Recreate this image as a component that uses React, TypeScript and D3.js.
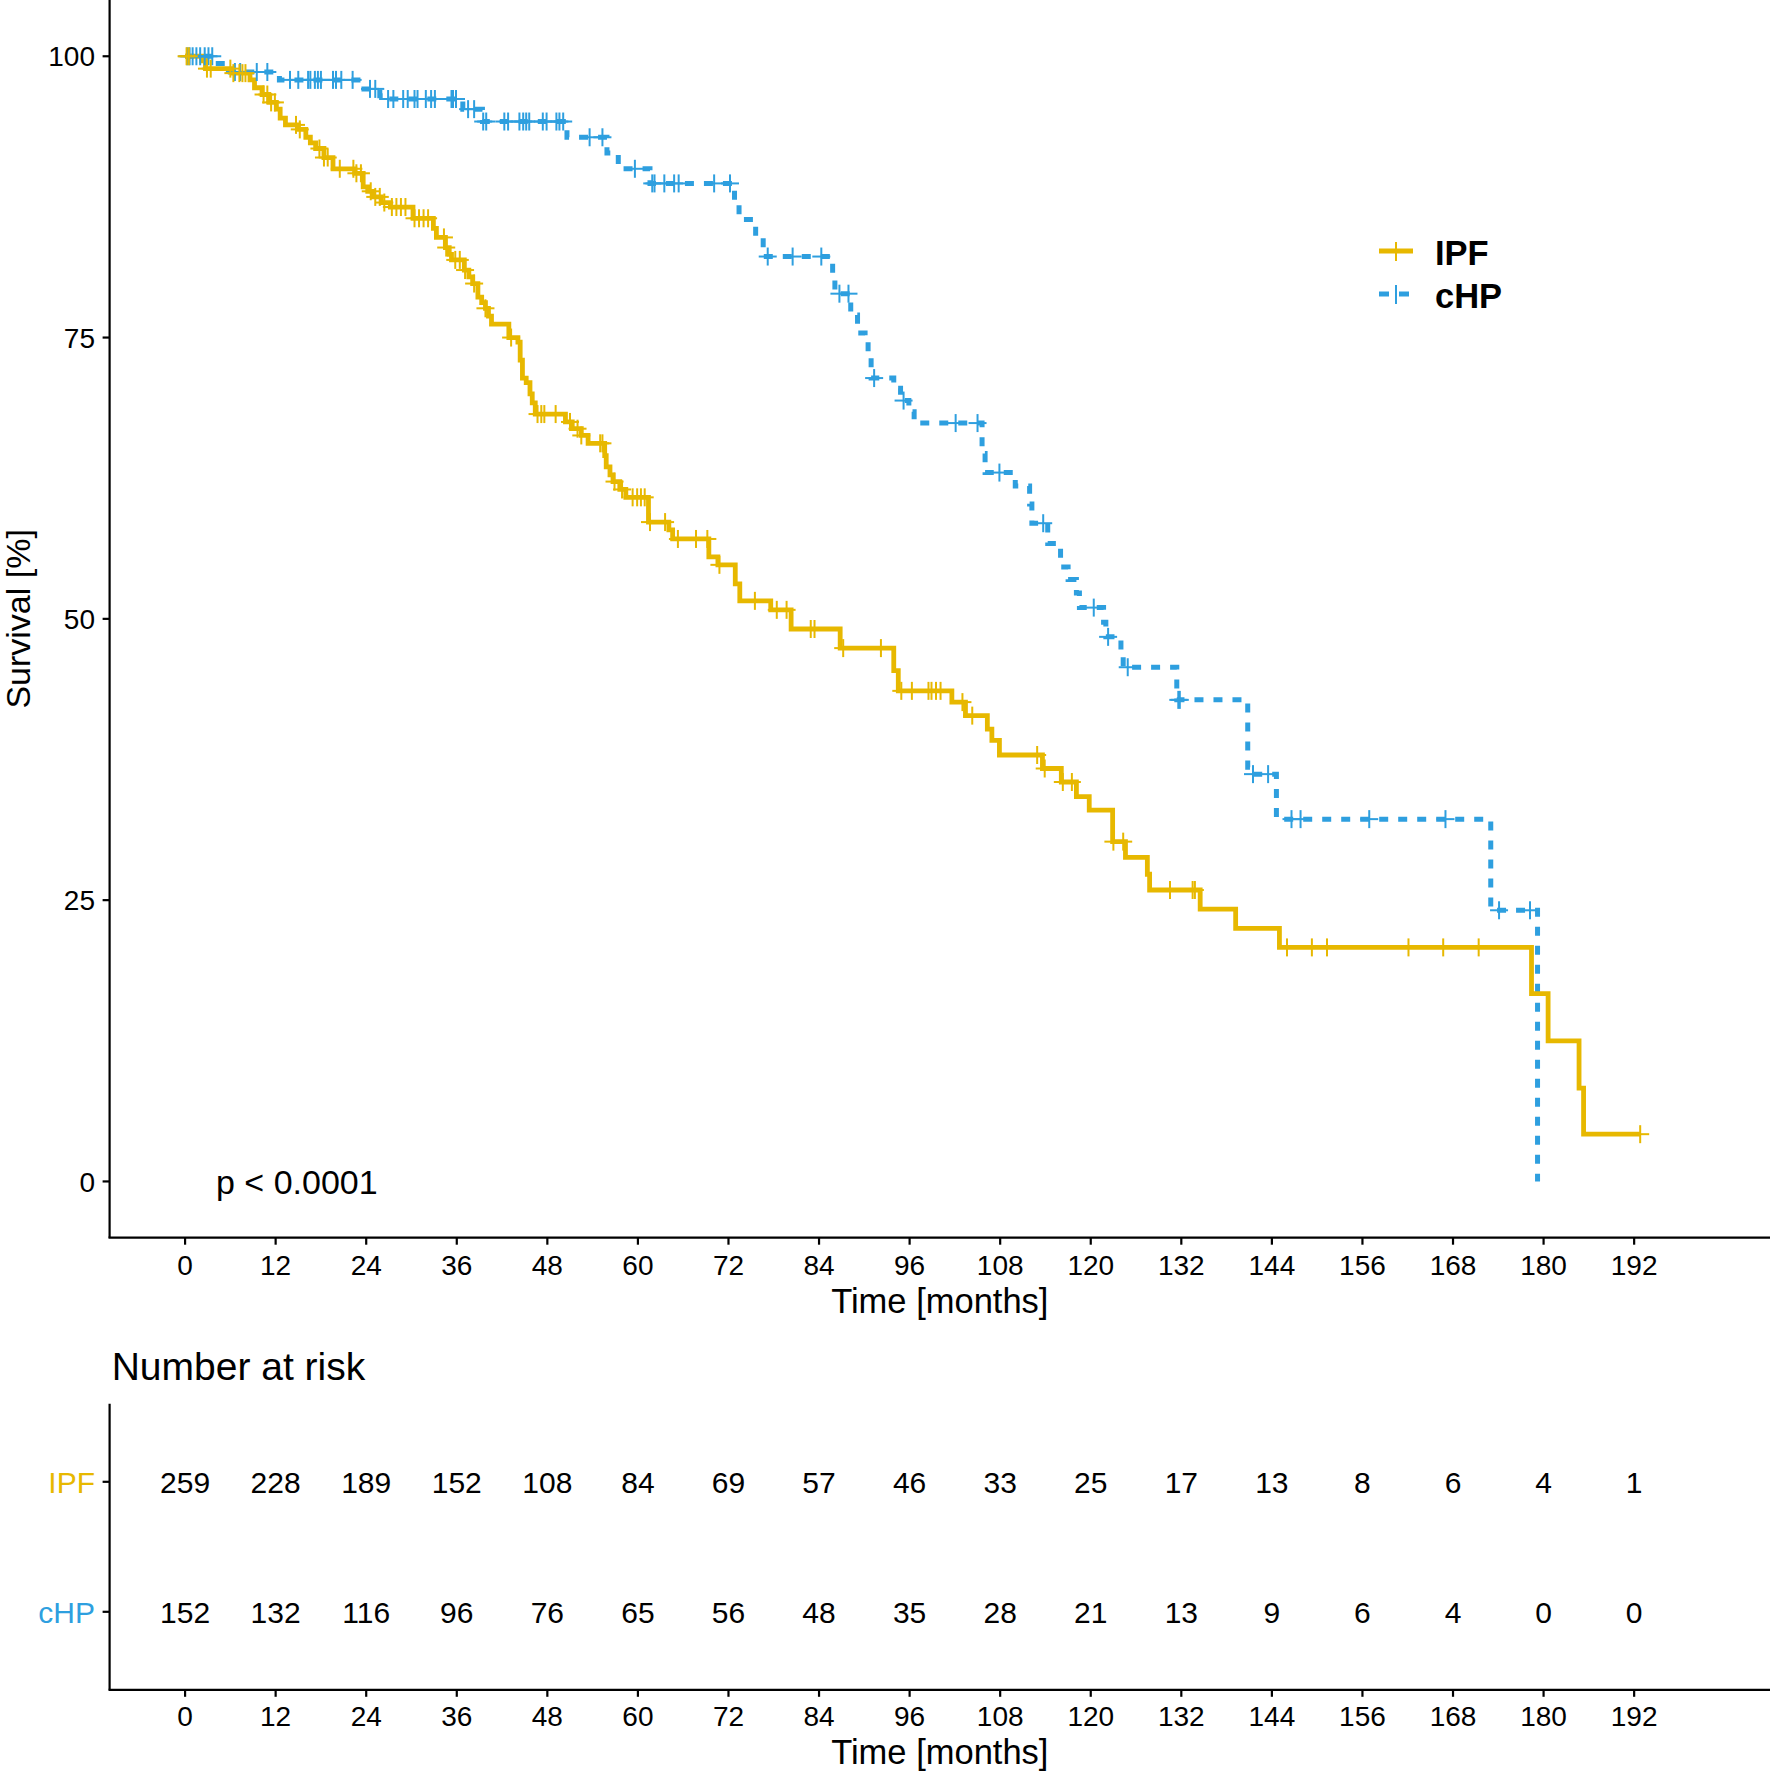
import React from 'react';
import * as d3 from 'd3';

// ---- Data ----
const groups = ['IPF', 'cHP'];
const groupColors = ['#E7B800', '#2E9FDF'];

const ipfTimes = [0, 2.2, 2.7, 6.3, 8.6, 9.2, 10.2, 11.1, 12.1, 12.6, 13.3, 15.0, 16.0, 16.6, 17.3, 18.4, 19.6, 22.5, 23.6, 24.2, 24.9, 26.0, 27.2, 30.2, 32.9, 33.3, 34.5, 35.0, 35.3, 37.0, 37.6, 38.1, 38.8, 39.3, 39.8, 40.2, 40.6, 42.9, 44.1, 44.4, 44.7, 45.2, 45.7, 46.0, 46.4, 50.4, 51.3, 52.5, 53.4, 55.6, 55.8, 56.3, 56.7, 57.6, 58.4, 61.4, 64.1, 64.6, 69.4, 70.6, 72.9, 73.5, 77.6, 80.3, 86.8, 93.9, 94.5, 101.6, 103.4, 106.3, 106.9, 107.9, 113.6, 116.1, 118.1, 119.8, 122.9, 124.6, 127.5, 127.8, 134.5, 139.2, 145.0, 178.4, 180.6, 184.7, 185.3];
const ipfSurv = [100, 99.6, 98.9, 98.5, 97.9, 97.2, 96.6, 95.9, 95.3, 94.5, 93.9, 93.5, 92.8, 92.3, 91.8, 91.0, 90.0, 89.6, 88.4, 88.0, 87.5, 87.0, 86.6, 85.6, 84.7, 83.9, 83.0, 82.4, 81.9, 81.0, 80.4, 79.8, 78.6, 78.1, 77.6, 76.9, 76.2, 75.0, 74.6, 73.0, 71.4, 71.0, 70.0, 69.2, 68.2, 67.5, 66.9, 66.3, 65.6, 64.5, 63.5, 62.8, 62.2, 61.5, 60.8, 58.6, 57.9, 57.1, 55.5, 54.8, 53.1, 51.6, 50.8, 49.1, 47.4, 45.4, 43.6, 42.6, 41.4, 40.2, 39.2, 37.9, 36.7, 35.5, 34.2, 33.0, 30.2, 28.8, 27.3, 25.9, 24.2, 22.5, 20.8, 16.7, 12.5, 8.3, 4.2];
const ipfEnd = 192.8;
const ipfCensor = [0.2, 0.5, 2.9, 3.4, 6.0, 6.4, 7.2, 7.6, 8.0, 10.4, 10.9, 11.4, 11.9, 14.7, 15.2, 17.8, 18.4, 18.9, 20.5, 22.3, 22.7, 23.3, 24.6, 25.2, 25.8, 26.4, 27.4, 28.0, 28.6, 29.2, 30.4, 31.0, 31.6, 32.2, 34.3, 34.6, 35.8, 36.4, 37.1, 38.3, 39.8, 43.2, 46.7, 47.2, 47.6, 49.1, 51.0, 52.0, 52.5, 55.0, 55.3, 56.9, 57.9, 59.3, 59.9, 60.4, 60.9, 61.6, 63.6, 65.3, 67.7, 69.2, 70.8, 75.5, 78.4, 79.7, 82.9, 83.4, 87.2, 92.2, 94.9, 96.3, 98.5, 98.9, 99.5, 100.1, 103.0, 104.3, 112.9, 113.9, 116.3, 117.5, 123.0, 124.3, 130.5, 133.5, 133.8, 146.0, 149.3, 151.3, 162.1, 166.7, 171.4, 192.8];

const chpTimes = [0, 4.0, 6.0, 12.5, 23.7, 25.8, 26.8, 36.8, 39.4, 50.6, 55.9, 57.4, 61.6, 72.8, 73.4, 75.6, 76.6, 85.1, 85.8, 86.1, 88.2, 89.1, 90.1, 90.5, 90.9, 93.9, 94.8, 95.9, 96.6, 105.6, 106.0, 110.0, 111.9, 112.2, 114.3, 116.0, 117.0, 118.1, 118.5, 121.7, 122.0, 124.0, 124.3, 131.4, 140.8, 141.3, 144.6, 173.0, 179.2];
const chpSurv = [100, 99.35, 98.6, 97.9, 97.1, 96.5, 96.2, 95.3, 94.2, 92.8, 91.4, 90.0, 88.7, 86.9, 85.5, 83.9, 82.2, 81.6, 80.4, 78.9, 77.0, 75.4, 74.7, 73.2, 71.4, 70.5, 69.4, 68.4, 67.4, 64.7, 63.0, 61.8, 60.2, 58.5, 56.7, 54.6, 53.5, 52.3, 51.0, 49.7, 48.4, 47.0, 45.7, 42.8, 36.8, 36.2, 32.2, 24.1, 0];
const chpCensor = [0.3, 0.6, 1.0, 1.5, 2.0, 2.6, 3.1, 3.6, 6.6, 7.3, 9.5, 10.9, 13.9, 15.0, 16.3, 16.6, 17.2, 17.6, 18.0, 19.6, 20.0, 20.7, 22.2, 24.5, 25.2, 26.9, 27.6, 28.9, 29.5, 30.4, 30.8, 31.9, 32.6, 33.1, 35.3, 35.5, 35.9, 37.5, 38.3, 39.5, 39.9, 42.3, 42.8, 44.3, 44.8, 45.2, 45.6, 47.4, 47.9, 49.2, 49.6, 50.1, 53.6, 55.3, 59.6, 61.9, 62.2, 63.5, 64.8, 65.4, 70.1, 72.2, 77.2, 80.5, 84.3, 86.7, 87.9, 91.3, 95.2, 102.1, 105.0, 107.9, 113.7, 120.4, 122.3, 124.9, 131.6, 131.8, 141.5, 143.5, 146.6, 147.8, 156.9, 167.0, 174.1, 178.2];

const xTicks = [0, 12, 24, 36, 48, 60, 72, 84, 96, 108, 120, 132, 144, 156, 168, 180, 192];
const yTicks = [0, 25, 50, 75, 100];
const ipfRisk = [259, 228, 189, 152, 108, 84, 69, 57, 46, 33, 25, 17, 13, 8, 6, 4, 1];
const chpRisk = [152, 132, 116, 96, 76, 65, 56, 48, 35, 28, 21, 13, 9, 6, 4, 0, 0];

const pText = 'p < 0.0001';
const FONT = '"Liberation Sans", Arial, Helvetica, sans-serif';

function survAt(times: number[], surv: number[], t: number) {
  const i = Math.max(0, d3.bisectRight(times, t) - 1);
  return surv[i];
}

export default function App() {
  const W = 1770, H = 1772;
  const left = 109.6, right = 1770, plotBottom = 1237.7;
  const x = d3.scaleLinear().domain([-10, 210]).range([left, right]);
  const y = d3.scaleLinear().domain([-5, 105]).range([plotBottom, 0]);
  const riskTop = 1403.8, riskBottom = 1689.8;
  const ry = d3.scalePoint<string>().domain(groups).range([riskTop, riskBottom]).padding(0.6);

  const line = d3.line<[number, number]>()
    .x(d => x(d[0])).y(d => y(d[1])).curve(d3.curveStepAfter);

  const ipfPts: [number, number][] = ipfTimes.map((t, i) => [t, ipfSurv[i]] as [number, number]);
  ipfPts.push([ipfEnd, ipfSurv[ipfSurv.length - 1]]);
  const chpPts: [number, number][] = chpTimes.map((t, i) => [t, chpSurv[i]] as [number, number]);

  const axisW = 2.2;
  const tickLen = 7;
  const cH = 9;

  const censorMarks = (times: number[], surv: number[], cens: number[], color: string) =>
    cens.map((t, i) => {
      const cx = x(t), cy = y(survAt(times, surv, t));
      return (
        <g key={i} stroke={color} strokeWidth={2}>
          <line x1={cx} x2={cx} y1={cy - cH} y2={cy + cH} />
          <line x1={cx - cH} x2={cx + cH} y1={cy} y2={cy} />
        </g>
      );
    });

  return (
    <svg width={W} height={H} style={{ position: 'absolute', left: 0, top: 0, background: '#fff' }}
      fontFamily={FONT}>
      <rect x={0} y={0} width={W} height={H} fill="#fff" />
      {/* Main axes */}
      <line x1={left} x2={left} y1={0} y2={plotBottom} stroke="#000" strokeWidth={axisW} />
      <line x1={left - axisW / 2} x2={right} y1={plotBottom} y2={plotBottom} stroke="#000" strokeWidth={axisW} />
      {yTicks.map(v => (
        <g key={v}>
          <line x1={left - tickLen} x2={left} y1={y(v)} y2={y(v)} stroke="#000" strokeWidth={axisW} />
          <text x={95} y={y(v)} dy="0.36em" textAnchor="end" fontSize={28} fill="#000">{v}</text>
        </g>
      ))}
      {xTicks.map(v => (
        <g key={v}>
          <line x1={x(v)} x2={x(v)} y1={plotBottom} y2={plotBottom + tickLen} stroke="#000" strokeWidth={axisW} />
          <text x={x(v)} y={1275} textAnchor="middle" fontSize={28} fill="#000">{v}</text>
        </g>
      ))}
      <text x={(left + right) / 2} y={1313} textAnchor="middle" fontSize={34.5} fill="#000">Time [months]</text>
      <text transform={`translate(30,${plotBottom / 2}) rotate(-90)`} textAnchor="middle" fontSize={34} fill="#000">Survival [%]</text>

      {/* Curves */}
      <path d={line(chpPts) || ''} fill="none" stroke={groupColors[1]} strokeWidth={5} strokeDasharray="9 10" />
      <path d={line(ipfPts) || ''} fill="none" stroke={groupColors[0]} strokeWidth={4.8} />
      {censorMarks(chpTimes, chpSurv, chpCensor, groupColors[1])}
      {censorMarks(ipfTimes, ipfSurv, ipfCensor, groupColors[0])}

      <text x={216} y={1194} fontSize={34} fill="#000">{pText}</text>

      {/* Legend */}
      <g>
        <line x1={1379} x2={1413} y1={251} y2={251} stroke={groupColors[0]} strokeWidth={4.8} />
        <line x1={1396} x2={1396} y1={242} y2={261} stroke={groupColors[0]} strokeWidth={2} />
        <text x={1435} y={265} fontSize={34.5} fontWeight="bold" fill="#000">{groups[0]}</text>
        <line x1={1379} x2={1413} y1={294} y2={294} stroke={groupColors[1]} strokeWidth={5} strokeDasharray="10 10" />
        <line x1={1396} x2={1396} y1={285} y2={304} stroke={groupColors[1]} strokeWidth={2} />
        <text x={1435} y={307.5} fontSize={34.5} fontWeight="bold" fill="#000">{groups[1]}</text>
      </g>

      {/* Risk table */}
      <text x={111.7} y={1380} fontSize={39} fill="#000">Number at risk</text>
      <line x1={left} x2={left} y1={riskTop} y2={riskBottom} stroke="#000" strokeWidth={axisW} />
      <line x1={left - axisW / 2} x2={right} y1={riskBottom} y2={riskBottom} stroke="#000" strokeWidth={axisW} />
      {groups.map((g, gi) => (
        <g key={g}>
          <line x1={left - tickLen} x2={left} y1={ry(g)!} y2={ry(g)!} stroke="#000" strokeWidth={axisW} />
          <text x={95} y={ry(g)!} dy="0.36em" textAnchor="end" fontSize={30} fill={groupColors[gi]}>{g}</text>
          {(gi === 0 ? ipfRisk : chpRisk).map((n, i) => (
            <text key={i} x={x(xTicks[i])} y={ry(g)!} dy="0.36em" textAnchor="middle" fontSize={30} fill="#000">{n}</text>
          ))}
        </g>
      ))}
      {xTicks.map(v => (
        <g key={'r' + v}>
          <line x1={x(v)} x2={x(v)} y1={riskBottom} y2={riskBottom + tickLen} stroke="#000" strokeWidth={axisW} />
          <text x={x(v)} y={1726} textAnchor="middle" fontSize={28} fill="#000">{v}</text>
        </g>
      ))}
      <text x={(left + right) / 2} y={1764} textAnchor="middle" fontSize={34.5} fill="#000">Time [months]</text>
    </svg>
  );
}
